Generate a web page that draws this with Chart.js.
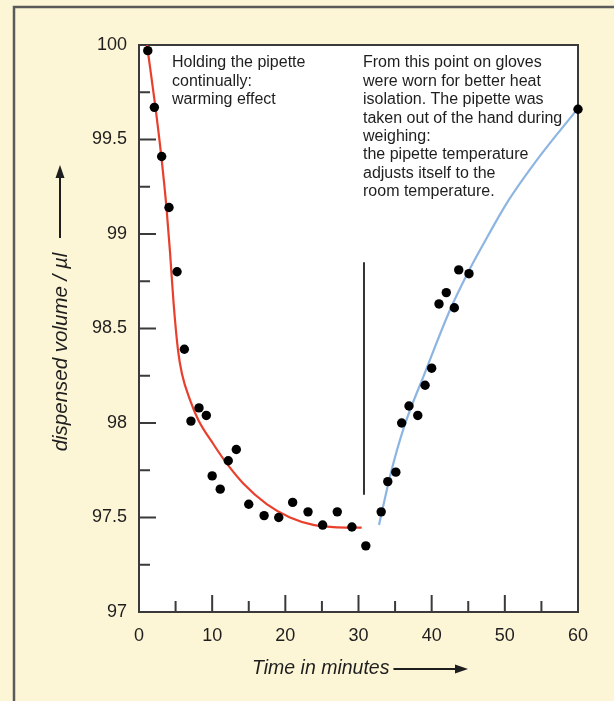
<!DOCTYPE html>
<html>
<head>
<meta charset="utf-8">
<script src="https://cdn.jsdelivr.net/npm/chart.js@4.4.1/dist/chart.umd.min.js"></script>
<style>
  html, body { margin: 0; padding: 0; background: #fdf6d6; }
  #wrap { width: 614px; height: 701px; position: relative; }
</style>
</head>
<body>
<div id="wrap"><canvas id="c" width="614" height="701"></canvas></div>
<script>
// ---- data ----
const measuredTime = [1.2, 2.1, 3.1, 4.1, 5.2, 6.2, 7.1, 8.2, 9.2, 10.0, 11.1, 12.2, 13.3, 15.0, 17.1, 19.1, 21.0, 23.1, 25.1, 27.1, 29.1, 31.0, 33.1, 34.0, 35.1, 35.9, 36.9, 38.1, 39.1, 40.0, 41.0, 42.0, 43.1, 43.7, 45.1, 60.0];
const measuredVolume = [99.97, 99.67, 99.41, 99.14, 98.80, 98.39, 98.01, 98.08, 98.04, 97.72, 97.65, 97.80, 97.86, 97.57, 97.51, 97.50, 97.58, 97.53, 97.46, 97.53, 97.45, 97.35, 97.53, 97.69, 97.74, 98.00, 98.09, 98.04, 98.20, 98.29, 98.63, 98.69, 98.61, 98.81, 98.79, 99.66];

const warmingTime = [1.093, 2.187, 3.075, 3.758, 4.237, 4.715, 5.330, 5.877, 6.970, 8.104, 10.154, 11.986, 14.254, 17.453, 20.637, 23.821, 26.555, 30.436];
const warmingVolume = [100.0, 99.688, 99.402, 99.138, 98.905, 98.640, 98.386, 98.259, 98.122, 98.016, 97.889, 97.786, 97.680, 97.571, 97.500, 97.461, 97.449, 97.446];

const coolingTime = [32.800, 34.372, 36.217, 39.087, 42.504, 44.827, 47.014, 50.294, 54.804, 59.861];
const coolingVolume = [97.460, 97.728, 97.978, 98.267, 98.598, 98.786, 98.943, 99.165, 99.413, 99.658];

const markerTime = [30.75, 30.75];
const markerVolume = [98.85, 97.62];

const xTickValues = [0, 10, 20, 30, 40, 50, 60];
const xTickLabels = ['0', '10', '20', '30', '40', '50', '60'];
const yTickValues = [97, 97.5, 98, 98.5, 99, 99.5, 100];
const yTickLabels = ['97', '97.5', '98', '98.5', '99', '99.5', '100'];

const xTitle = 'Time in minutes';
const yTitle = 'dispensed volume / µl';
const noteLeft = ['Holding the pipette', 'continually:', 'warming effect'];
const noteRight = ['From this point on gloves', 'were worn for better heat', 'isolation. The pipette was', 'taken out of the hand during', 'weighing:', 'the pipette temperature', 'adjusts itself to the', 'room temperature.'];

// ---- helpers ----
const toXY = (xs, ys) => xs.map((x, i) => ({ x: x, y: ys[i] }));
const FONT = '"Liberation Sans", Arial, sans-serif';
const INK = '#1e1e1e';

const framePlugin = {
  id: 'frame',
  beforeDraw(chart) {
    const ctx = chart.ctx;
    const a = chart.chartArea;
    ctx.save();
    ctx.fillStyle = '#fdf6d6';
    ctx.fillRect(0, 0, chart.width, chart.height);
    // outer frame (top + left)
    ctx.strokeStyle = '#5a5a5a';
    ctx.lineWidth = 2.5;
    ctx.beginPath();
    ctx.moveTo(14, chart.height);
    ctx.lineTo(14, 7);
    ctx.lineTo(chart.width, 7);
    ctx.stroke();
    // plot area
    ctx.fillStyle = '#ffffff';
    ctx.fillRect(a.left, a.top, a.right - a.left, a.bottom - a.top);
    ctx.restore();
  },
  beforeDatasetsDraw(chart) {
    const ctx = chart.ctx;
    const a = chart.chartArea;
    const xs = chart.scales.x, ys = chart.scales.y;
    ctx.save();
    ctx.strokeStyle = '#3a3a3a';
    ctx.lineWidth = 2;
    // inward tick marks
    ctx.beginPath();
    for (let v = 5; v < 60; v += 5) {
      const px = xs.getPixelForValue(v);
      const len = (v % 10 === 0) ? 17 : 11;
      ctx.moveTo(px, a.bottom);
      ctx.lineTo(px, a.bottom - len);
    }
    for (let k = 1; k < 12; k++) {
      const v = 97 + k * 0.25;
      const py = ys.getPixelForValue(v);
      const len = (k % 2 === 0) ? 17 : 11;
      ctx.moveTo(a.left, py);
      ctx.lineTo(a.left + len, py);
    }
    ctx.stroke();
    // plot border
    ctx.lineWidth = 2;
    ctx.strokeRect(a.left, a.top, a.right - a.left, a.bottom - a.top);
    ctx.restore();
  },
  afterDraw(chart) {
    const ctx = chart.ctx;
    ctx.save();
    ctx.fillStyle = INK;
    ctx.strokeStyle = INK;
    // annotations
    ctx.font = '16px ' + FONT;
    ctx.textBaseline = 'middle';
    ctx.textAlign = 'left';
    noteLeft.forEach((t, i) => ctx.fillText(t, 172, 63 + i * 18.3));
    noteRight.forEach((t, i) => ctx.fillText(t, 363, 63 + i * 18.4));
    // x title with arrow
    ctx.font = 'italic 19.5px ' + FONT;
    ctx.textAlign = 'left';
    ctx.fillText(xTitle, 252, 669);
    const tw = ctx.measureText(xTitle).width;
    const ax0 = 252 + tw + 4, ax1 = 468;
    ctx.lineWidth = 2;
    ctx.beginPath();
    ctx.moveTo(ax0, 669); ctx.lineTo(ax1 - 10, 669); ctx.stroke();
    ctx.beginPath();
    ctx.moveTo(ax1, 669); ctx.lineTo(ax1 - 13, 664.5); ctx.lineTo(ax1 - 13, 673.5); ctx.closePath(); ctx.fill();
    // y title with arrow
    ctx.font = 'italic 20.5px ' + FONT;
    ctx.save();
    ctx.translate(61, 352);
    ctx.rotate(-Math.PI / 2);
    ctx.textAlign = 'center';
    ctx.fillText(yTitle, 0, 0);
    ctx.restore();
    ctx.beginPath();
    ctx.moveTo(60, 238); ctx.lineTo(60, 176); ctx.stroke();
    ctx.beginPath();
    ctx.moveTo(60, 165); ctx.lineTo(55.5, 178); ctx.lineTo(64.5, 178); ctx.closePath(); ctx.fill();
    ctx.restore();
  }
};

new Chart(document.getElementById('c'), {
  type: 'scatter',
  data: {
    datasets: [
      {
        label: 'measured',
        data: toXY(measuredTime, measuredVolume),
        backgroundColor: '#000',
        borderColor: '#000',
        pointRadius: 4.7,
        pointHoverRadius: 4.7,
        borderWidth: 0,
        clip: false,
        order: 0
      },
      {
        label: 'warming',
        data: toXY(warmingTime, warmingVolume),
        showLine: true,
        borderColor: '#e8402c',
        borderWidth: 2.2,
        pointRadius: 0,
        cubicInterpolationMode: 'monotone',
        clip: false,
        order: 1
      },
      {
        label: 'cooling',
        data: toXY(coolingTime, coolingVolume),
        showLine: true,
        borderColor: '#8db5e2',
        borderWidth: 2.2,
        pointRadius: 0,
        cubicInterpolationMode: 'monotone',
        clip: false,
        order: 1
      },
      {
        label: 'marker',
        data: toXY(markerTime, markerVolume),
        showLine: true,
        borderColor: '#333',
        borderWidth: 2,
        pointRadius: 0,
        clip: false,
        order: 1
      }
    ]
  },
  options: {
    responsive: false,
    animation: false,
    layout: { padding: { top: 45, right: 36, left: 0, bottom: 0 } },
    plugins: { legend: { display: false }, tooltip: { enabled: false } },
    events: [],
    scales: {
      x: {
        type: 'linear',
        min: 0, max: 60,
        afterBuildTicks(s) { s.ticks = xTickValues.map(v => ({ value: v })); },
        ticks: {
          callback: (v) => xTickLabels[xTickValues.indexOf(v)],
          font: { size: 18, family: FONT },
          color: INK,
          padding: 13,
          maxRotation: 0
        },
        grid: { display: false, drawTicks: false },
        border: { display: false },
        afterFit(s) { s.height = 89; }
      },
      y: {
        type: 'linear',
        min: 97, max: 100,
        afterBuildTicks(s) { s.ticks = yTickValues.map(v => ({ value: v })); },
        ticks: {
          callback: (v) => yTickLabels[yTickValues.indexOf(v)],
          font: { size: 18, family: FONT },
          color: INK,
          padding: 12
        },
        grid: { display: false, drawTicks: false },
        border: { display: false },
        afterFit(s) { s.width = 139; }
      }
    }
  },
  plugins: [framePlugin]
});
</script>
</body>
</html>
